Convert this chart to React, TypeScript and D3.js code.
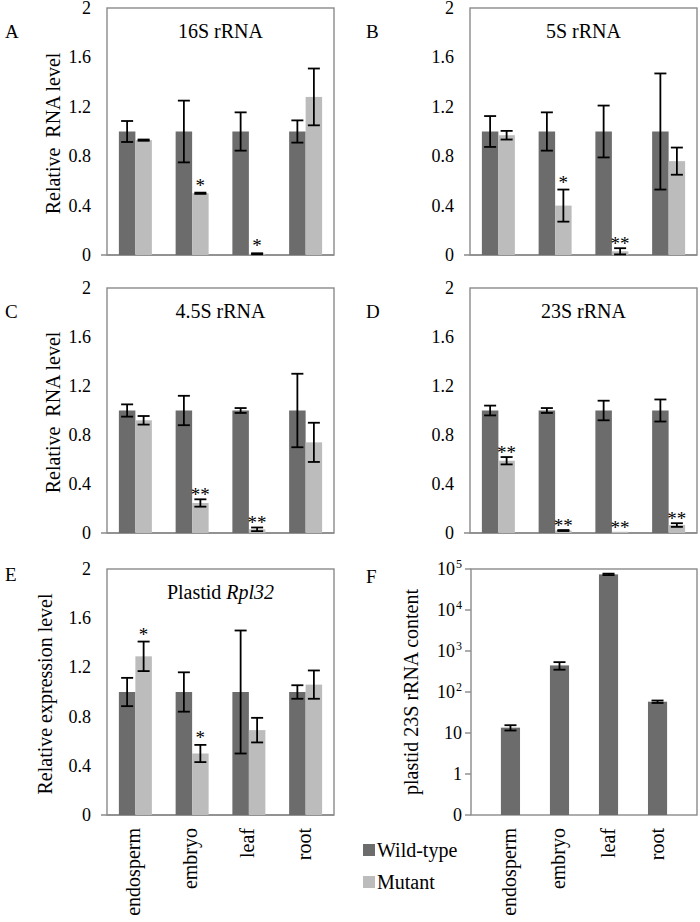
import React from 'react';
import * as d3 from 'd3';

const categories = ['endosperm', 'embryo', 'leaf', 'root'];
const seriesNames = ['Wild-type', 'Mutant'];
const linearTicks = [0, 0.4, 0.8, 1.2, 1.6, 2];
const tickLabels = ['0', '0.4', '0.8', '1.2', '1.6', '2'];

// 16S rRNA
const wt16S = [1, 1, 1, 1];
const wt16SErr = [0.085, 0.25, 0.155, 0.09];
const mut16S = [0.93, 0.5, 0.01, 1.28];
const mut16SErr = [0.005, 0.005, 0.004, 0.23];
const sig16S = ['', '*', '*', ''];

// 5S rRNA
const wt5S = [1, 1, 1, 1];
const wt5SErr = [0.125, 0.155, 0.21, 0.47];
const mut5S = [0.97, 0.4, 0.03, 0.76];
const mut5SErr = [0.035, 0.13, 0.025, 0.11];
const sig5S = ['', '*', '**', ''];

// 4.5S rRNA
const wt45S = [1, 1, 1, 1];
const wt45SErr = [0.05, 0.12, 0.02, 0.3];
const mut45S = [0.92, 0.245, 0.03, 0.74];
const mut45SErr = [0.035, 0.03, 0.015, 0.16];
const sig45S = ['', '**', '**', ''];

// 23S rRNA
const wt23S = [1, 1, 1, 1];
const wt23SErr = [0.04, 0.02, 0.08, 0.09];
const mut23S = [0.59, 0.02, 0.01, 0.065];
const mut23SErr = [0.03, 0.004, 0, 0.015];
const sig23S = ['**', '**', '**', '**'];

// Plastid Rpl32
const wtRpl = [1, 1, 1, 1];
const wtRplErr = [0.115, 0.16, 0.5, 0.055];
const mutRpl = [1.29, 0.5, 0.69, 1.06];
const mutRplErr = [0.12, 0.07, 0.1, 0.115];
const sigRpl = ['*', '*', '', ''];

// Plastid 23S rRNA content (log)
const content23S = [13.5, 445, 74000, 58];
const content23SLow = [11.5, 350, 71000, 54];
const content23SHigh = [15.5, 535, 77000, 62];
const logTicks = [0.1, 1, 10, 100, 1000, 10000, 100000];
const logTickBase = ['0', '1', '10', '10', '10', '10', '10'];
const logTickExp = ['', '', '', '2', '3', '4', '5'];

const WT = '#6c6c6c';
const MUT = '#bcbcbc';
const BORDER = '#8a8a8a';
const FONT = 'Liberation Serif, DejaVu Serif, serif';

type LinPanel = {
  letter: string; letterX: number; letterY: number;
  left: number; right: number; top: number; bottom: number;
  title: React.ReactNode; ylabel?: string; ylabelX?: number;
  wt: number[]; wtErr: number[]; mut: number[]; mutErr: number[]; sig: string[];
};

const panels: LinPanel[] = [
  { letter: 'A', letterX: 5, letterY: 38, left: 107, right: 334, top: 8, bottom: 255,
    title: '16S rRNA', ylabel: 'Relative  RNA level', ylabelX: 60,
    wt: wt16S, wtErr: wt16SErr, mut: mut16S, mutErr: mut16SErr, sig: sig16S },
  { letter: 'B', letterX: 366, letterY: 38, left: 470, right: 697, top: 8, bottom: 255,
    title: '5S rRNA',
    wt: wt5S, wtErr: wt5SErr, mut: mut5S, mutErr: mut5SErr, sig: sig5S },
  { letter: 'C', letterX: 5, letterY: 318, left: 107, right: 334, top: 288, bottom: 533,
    title: '4.5S rRNA', ylabel: 'Relative  RNA level', ylabelX: 60,
    wt: wt45S, wtErr: wt45SErr, mut: mut45S, mutErr: mut45SErr, sig: sig45S },
  { letter: 'D', letterX: 366, letterY: 318, left: 470, right: 697, top: 288, bottom: 533,
    title: '23S rRNA',
    wt: wt23S, wtErr: wt23SErr, mut: mut23S, mutErr: mut23SErr, sig: sig23S },
  { letter: 'E', letterX: 5, letterY: 581, left: 107, right: 334, top: 569, bottom: 815,
    title: <>Plastid <tspan fontStyle="italic">Rpl32</tspan></>, ylabel: 'Relative expression level', ylabelX: 52,
    wt: wtRpl, wtErr: wtRplErr, mut: mutRpl, mutErr: mutRplErr, sig: sigRpl },
];

function ErrorBar({ x, y1, y2 }: { x: number; y1: number; y2: number }) {
  const cw = 6;
  return (
    <g stroke="#000" strokeWidth={1.8}>
      <line x1={x} x2={x} y1={y1} y2={y2} />
      <line x1={x - cw} x2={x + cw} y1={y1} y2={y1} />
      <line x1={x - cw} x2={x + cw} y1={y2} y2={y2} />
    </g>
  );
}

function LinearPanel({ p }: { p: LinPanel }) {
  const y = d3.scaleLinear().domain([0, 2]).range([p.bottom, p.top]);
  const x0 = d3.scaleBand().domain(categories).range([p.left, p.right]).padding(0);
  const x1 = d3.scaleBand().domain(seriesNames).range([0, x0.bandwidth()]).paddingInner(0).paddingOuter(0.72);
  const bw = x1.bandwidth();
  return (
    <g>
      <text x={p.letterX} y={p.letterY} fontSize={19}>{p.letter}</text>
      {linearTicks.map((t, i) => (
        <text key={t} x={p.left - 16} y={y(t) + 6} fontSize={18} textAnchor="end">{tickLabels[i]}</text>
      ))}
      {p.ylabel && (
        <text transform={`translate(${p.ylabelX},${(p.top + p.bottom) / 2 + 2}) rotate(-90)`} fontSize={20}
          textAnchor="middle" style={{ whiteSpace: 'pre' }}>{p.ylabel}</text>
      )}
      <rect x={p.left} y={p.top} width={p.right - p.left} height={p.bottom - p.top} fill="#fff" stroke={BORDER} strokeWidth={1.4} />
      <line x1={p.left - 6} x2={p.right} y1={p.bottom} y2={p.bottom} stroke={BORDER} strokeWidth={1.4} />
      <text x={(p.left + p.right) / 2} y={p.top + 30} fontSize={20} textAnchor="middle">{p.title}</text>
      {categories.map((c, i) => {
        const xw = x0(c)! + x1('Wild-type')!;
        const xm = x0(c)! + x1('Mutant')!;
        const mTop = y(p.mut[i] + p.mutErr[i]);
        return (
          <g key={c}>
            <rect x={xw} y={y(p.wt[i])} width={bw} height={y(0) - y(p.wt[i])} fill={WT} />
            <rect x={xm} y={y(p.mut[i])} width={bw} height={y(0) - y(p.mut[i])} fill={MUT} />
            <ErrorBar x={xw + bw / 2} y1={y(p.wt[i] + p.wtErr[i])} y2={y(p.wt[i] - p.wtErr[i])} />
            {p.mutErr[i] > 0 && (
              <ErrorBar x={xm + bw / 2} y1={mTop} y2={y(Math.max(0, p.mut[i] - p.mutErr[i]))} />
            )}
            {p.sig[i] && (
              <text x={xm + bw / 2} y={mTop + (p.sig[i] === '**' ? 2 : -1)} fontSize={19} textAnchor="middle">{p.sig[i]}</text>
            )}
          </g>
        );
      })}
    </g>
  );
}

function LogPanel() {
  const left = 471, right = 697, top = 569, bottom = 815;
  const y = d3.scaleLog().domain([0.1, 100000]).range([bottom, top]);
  const x = d3.scaleBand().domain(categories).range([left, right]).padding(0.61);
  const bw = x.bandwidth();
  return (
    <g>
      <text x={366} y={583} fontSize={19}>F</text>
      {logTicks.map((t, i) => (
        <g key={t}>
          <line x1={left - 6} x2={left} y1={y(t)} y2={y(t)} stroke={BORDER} strokeWidth={1.4} />
          <text x={left - 9 - (logTickExp[i] ? 7 : 0)} y={y(t) + 6} fontSize={18} textAnchor="end">{logTickBase[i]}</text>
          {logTickExp[i] && (
            <text x={left - 9} y={y(t) - 1} fontSize={12} textAnchor="end">{logTickExp[i]}</text>
          )}
        </g>
      ))}
      <text transform={`translate(418,${(top + bottom) / 2}) rotate(-90)`} fontSize={20} textAnchor="middle">plastid 23S rRNA content</text>
      <rect x={left} y={top} width={right - left} height={bottom - top} fill="#fff" stroke={BORDER} strokeWidth={1.4} />
      {categories.map((c, i) => {
        const cx = x(c)! + bw / 2;
        return (
          <g key={c}>
            <rect x={x(c)!} y={y(content23S[i])} width={bw} height={y(0.1) - y(content23S[i])} fill={WT} />
            <ErrorBar x={cx} y1={y(content23SHigh[i])} y2={y(content23SLow[i])} />
          </g>
        );
      })}
      {categories.map((c) => (
        <text key={c} transform={`translate(${x(c)! + bw / 2 + 6},828) rotate(-90)`} fontSize={20} textAnchor="end">{c}</text>
      ))}
    </g>
  );
}

export default function App() {
  const pE = panels[4];
  const xE = d3.scaleBand().domain(categories).range([pE.left, pE.right]).padding(0);
  return (
    <svg width={700} height={922} style={{ position: 'absolute', left: 0, top: 0, display: 'block', background: '#fff' }}
      fontFamily={FONT} fill="#000">
      <rect width={700} height={922} fill="#fff" />
      {panels.map((p) => <LinearPanel key={p.letter} p={p} />)}
      <LogPanel />
      {categories.map((c) => (
        <text key={c} transform={`translate(${xE(c)! + xE.bandwidth() / 2 + 5},828) rotate(-90)`} fontSize={20} textAnchor="end">{c}</text>
      ))}
      {seriesNames.map((s, i) => (
        <g key={s}>
          <rect x={363} y={844 + i * 32} width={12} height={12} fill={i === 0 ? WT : MUT} />
          <text x={377} y={857 + i * 32} fontSize={20}>{s}</text>
        </g>
      ))}
    </svg>
  );
}
